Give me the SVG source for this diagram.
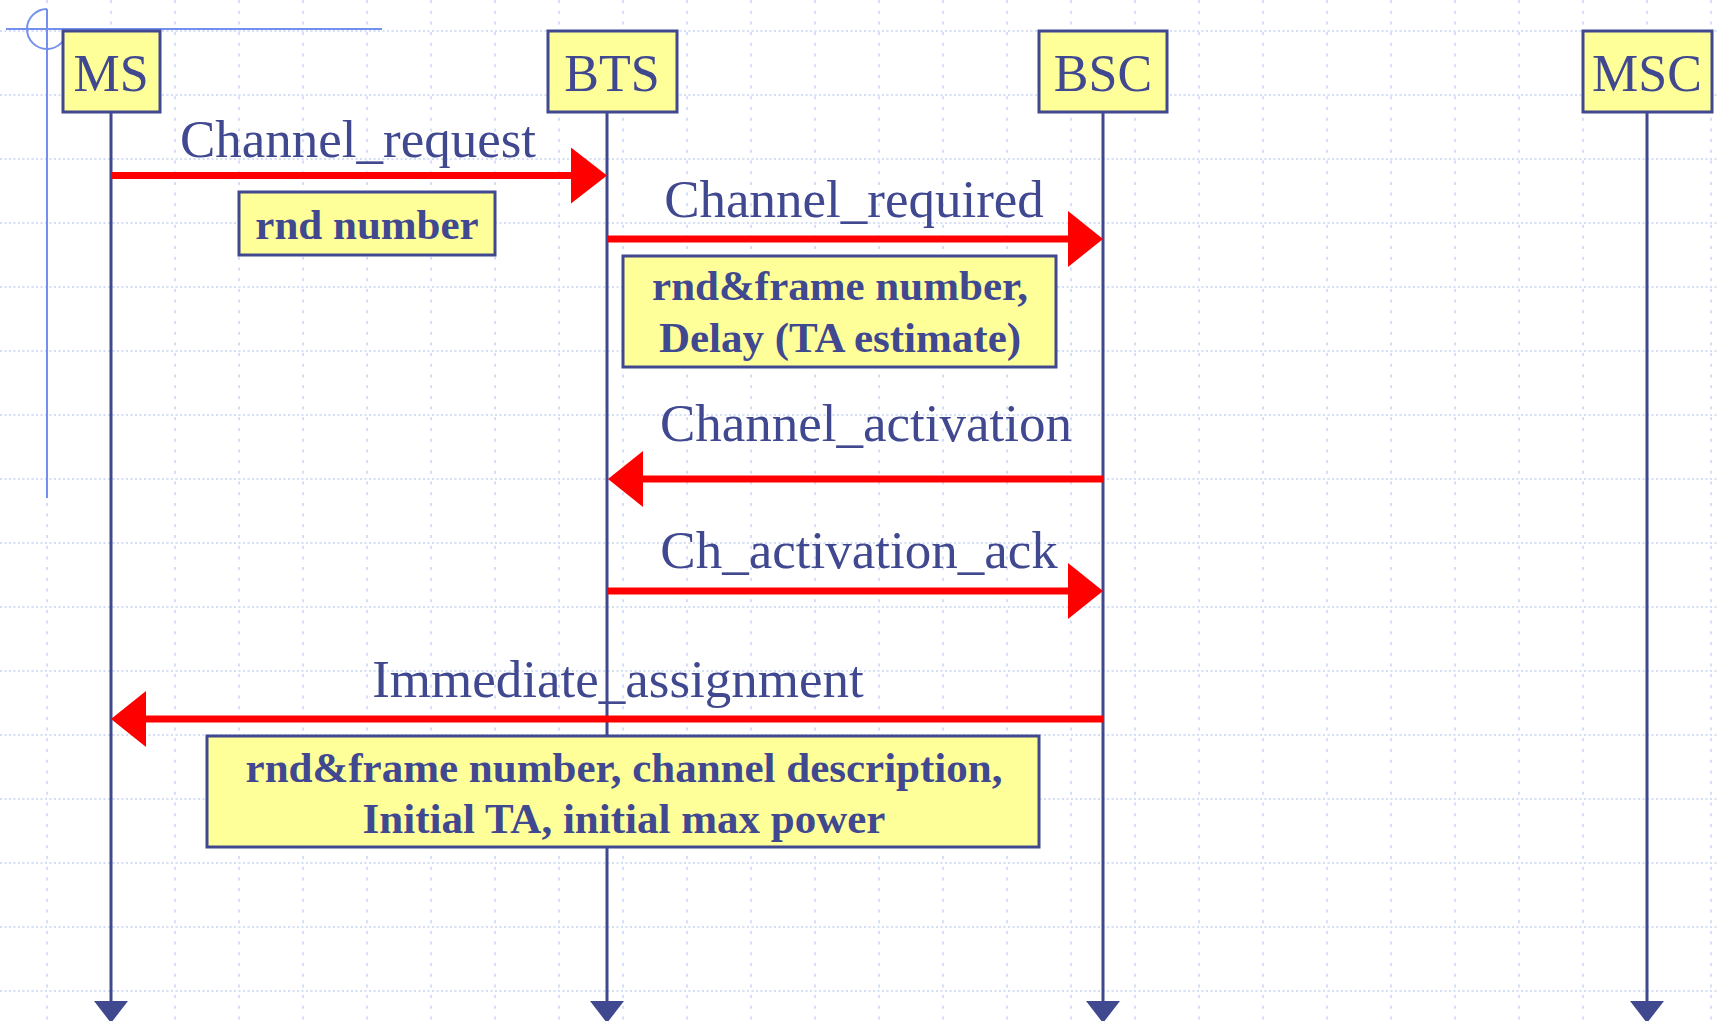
<svg xmlns="http://www.w3.org/2000/svg" width="1717" height="1021" viewBox="0 0 1717 1021">
<style>
.gridh{fill:none;stroke:#c6d3f4;stroke-width:1.5;stroke-dasharray:2 2.5}
.gridv{fill:none;stroke:#c6d3f4;stroke-width:1.5;stroke-dasharray:3 7.7}
.guide{fill:none;stroke:#7390ee;stroke-width:2}
.node rect{fill:#ffff99;stroke:#404890;stroke-width:3}
.node text{font-family:"Liberation Serif","Times New Roman",serif;font-size:52px;fill:#404890;text-anchor:middle}
.life{stroke:#404890;stroke-width:3;fill:none}
.lifehead{fill:#404890}
.msg{stroke:#ff0000;stroke-width:7;fill:none}
.head{fill:#ff0000}
.lbl{font-family:"Liberation Serif","Times New Roman",serif;font-size:53px;fill:#404890}
.note rect{fill:#ffff99;stroke:#404890;stroke-width:3}
.note text{font-family:"Liberation Serif","Times New Roman",serif;font-size:43px;font-weight:bold;fill:#404890;text-anchor:middle}
</style>
<rect x="0" y="0" width="1717" height="1021" fill="#ffffff"/>
<g id="grid">
<path class="gridv" d="M47 0V1021M111 0V1021M175 0V1021M239 0V1021M303 0V1021M367 0V1021M431 0V1021M495 0V1021M559 0V1021M623 0V1021M687 0V1021M751 0V1021M815 0V1021M879 0V1021M943 0V1021M1007 0V1021M1071 0V1021M1135 0V1021M1199 0V1021M1263 0V1021M1327 0V1021M1391 0V1021M1455 0V1021M1519 0V1021M1583 0V1021M1647 0V1021M1711 0V1021"/>
<path class="gridh" d="M0 31H1717M0 95H1717M0 159H1717M0 223H1717M0 287H1717M0 351H1717M0 415H1717M0 479H1717M0 543H1717M0 607H1717M0 671H1717M0 735H1717M0 799H1717M0 863H1717M0 927H1717M0 991H1717"/>
</g>
<g id="guides">
<line class="guide" x1="6" y1="29" x2="382" y2="29"/>
<line class="guide" x1="47" y1="9" x2="47" y2="498"/>
<path class="guide" d="M47 9A20 20 0 1 0 67 29"/>
</g>
<g id="lifelines">
<line class="life" x1="111" y1="112" x2="111" y2="1003"/>
<polygon class="lifehead" points="94,1001 128,1001 111,1023"/>
<line class="life" x1="607" y1="112" x2="607" y2="1003"/>
<polygon class="lifehead" points="590,1001 624,1001 607,1023"/>
<line class="life" x1="1103" y1="112" x2="1103" y2="1003"/>
<polygon class="lifehead" points="1086,1001 1120,1001 1103,1023"/>
<line class="life" x1="1647" y1="112" x2="1647" y2="1003"/>
<polygon class="lifehead" points="1630,1001 1664,1001 1647,1023"/>
</g>
<g id="MS" class="node"><rect x="63" y="31" width="97" height="81"/><text x="111" y="91">MS</text></g>
<g id="BTS" class="node"><rect x="548" y="31" width="129" height="81"/><text x="612" y="91">BTS</text></g>
<g id="BSC" class="node"><rect x="1039" y="31" width="128" height="81"/><text x="1103" y="91">BSC</text></g>
<g id="MSC" class="node"><rect x="1583" y="31" width="129" height="81"/><text x="1647" y="91">MSC</text></g>
<g id="connectors">
<line class="msg" x1="111" y1="175.5" x2="573" y2="175.5"/>
<polygon class="head" points="571,147.5 607,175.5 571,203.5"/>
<text class="lbl" x="358" y="157" text-anchor="middle">Channel_request</text>
<line class="msg" x1="607" y1="239" x2="1070" y2="239"/>
<polygon class="head" points="1068,211 1103,239 1068,267"/>
<text class="lbl" x="854" y="217" text-anchor="middle">Channel_required</text>
<line class="msg" x1="1103" y1="479" x2="641" y2="479"/>
<polygon class="head" points="643,451 608,479 643,507"/>
<text class="lbl" x="866" y="441" text-anchor="middle">Channel_activation</text>
<line class="msg" x1="607" y1="591" x2="1070" y2="591"/>
<polygon class="head" points="1068,563 1103,591 1068,619"/>
<text class="lbl" x="859" y="568" text-anchor="middle">Ch_activation_ack</text>
<line class="msg" x1="1103" y1="719" x2="144" y2="719"/>
<polygon class="head" points="146,691 111,719 146,747"/>
<text class="lbl" x="618" y="697" text-anchor="middle">Immediate_assignment</text>
</g>
<g id="note1" class="note"><rect x="239" y="192" width="256" height="63"/><text x="367" y="239">rnd number</text></g>
<g id="note2" class="note"><rect x="623" y="256" width="433" height="111"/><text x="840" y="300">rnd&amp;frame number,</text><text x="840" y="352">Delay (TA estimate)</text></g>
<g id="note3" class="note"><rect x="207" y="736" width="832" height="111"/><text x="624" y="782">rnd&amp;frame number, channel description,</text><text x="624" y="833">Initial TA, initial max power</text></g>
</svg>
